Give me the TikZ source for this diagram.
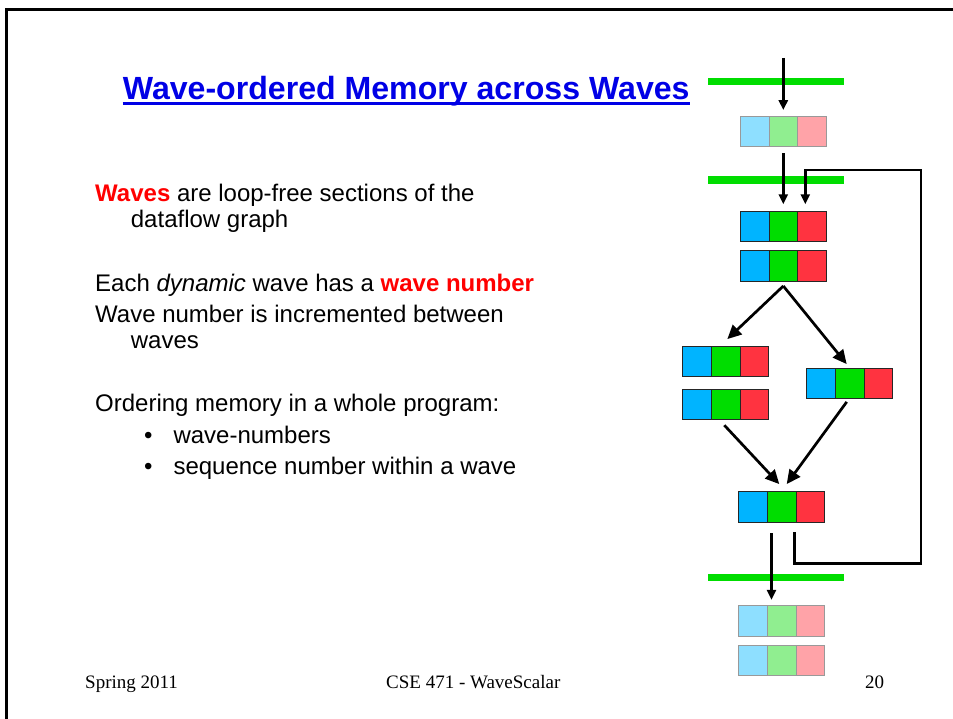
\documentclass[tikz,border=0pt]{standalone}
\usepackage{fontspec}
\setmainfont{Liberation Sans}
\newfontfamily\footfont{Liberation Serif}
\usetikzlibrary{arrows.meta}

\definecolor{titleBlue}{HTML}{0000E6}
\definecolor{hiRed}{HTML}{FF0000}
\definecolor{barGreen}{HTML}{00DD00}
\definecolor{cyanD}{HTML}{00B4FF}
\definecolor{greenD}{HTML}{00DD00}
\definecolor{redD}{HTML}{FF3340}
\definecolor{cyanL}{HTML}{8EDFFF}
\definecolor{greenL}{HTML}{90EE90}
\definecolor{redL}{HTML}{FFA3A8}

% one token: three coloured cells, named #1c, #1g, #1r; #4 is D (dark) or L (light)
\newcommand{\cellrow}[4]{%
  \node[cell#4, fill=green#4] (#1g) at (#2,#3) {};
  \node[cell#4, fill=cyan#4, anchor=east] (#1c) at (#1g.west) {};
  \node[cell#4, fill=red#4, anchor=west] (#1r) at (#1g.east) {};
}

\begin{document}
\begin{tikzpicture}[x=1pt,y=-1pt,
  cellD/.style={draw=black!85, line width=0.9pt, minimum width=28.6pt,
    minimum height=30.4pt, inner sep=0pt, outer sep=0pt},
  cellL/.style={draw=black!40, line width=0.9pt, minimum width=28.6pt,
    minimum height=30.4pt, inner sep=0pt, outer sep=0pt},
  bar/.style={fill=barGreen, minimum width=135.7pt, minimum height=7.6pt,
    inner sep=0pt, outer sep=0pt},
  link/.style={line width=2.7pt},
  arr/.style={link, -{Triangle[length=10pt,width=9pt]}},
  bigarr/.style={link, -{Triangle[length=14pt,width=13pt]}},
  body/.style={anchor=base west, inner sep=0pt, font=\fontsize{24}{28}\selectfont},
  foot/.style={anchor=base west, inner sep=0pt, font=\footfont\fontsize{19}{22}\selectfont}]
\useasboundingbox (0,0) rectangle (953,719);

% slide frame (top and left edges)
\draw[line width=2.6pt] (6.2,719) -- (6.2,9.3) -- (953,9.3);

% title
\node[anchor=base west, inner sep=0pt, text=titleBlue,
  font=\fontsize{32.1}{36}\selectfont\bfseries] (title) at (122.7,99.3)
  {Wave-ordered Memory across Waves};
\draw[titleBlue, line width=3.2pt] ([yshift=-4pt]title.base west) -- ([yshift=-4pt]title.base east);

% body text
\node[body] (l1) at (95,201.7) {\textcolor{hiRed}{\textbf{Waves}} are loop-free sections of the};
\node[body] (l2) at (130.7,227.7) {dataflow graph};
\node[body] (l3) at (95,291) {Each \textit{dynamic} wave has a \textcolor{hiRed}{\textbf{wave number}}};
\node[body] (l4) at (95,322.7) {Wave number is incremented between};
\node[body] (l5) at (130.7,348.3) {waves};
\node[body] (l6) at (95,411.7) {Ordering memory in a whole program:};
\node[body] (b1) at (144,443.3) {•};
\node[body] (l7) at (173.3,443.3) {wave-numbers};
\node[body] (b2) at (144,474.3) {•};
\node[body] (l8) at (173.3,474.3) {sequence number within a wave};

% footer
\node[foot] (f1) at (85,688.8) {Spring 2011};
\node[foot] (f2) at (386,688.8) {CSE 471 - WaveScalar};
\node[foot] (f3) at (865,688.8) {20};

% wave boundaries
\node[bar] (w1) at (776.15,81.5) {};
\node[bar] (w2) at (776.15,180) {};
\node[bar] (w3) at (776.15,577.6) {};

% tokens
\cellrow{t}{783.3}{131.3}{L}
\cellrow{a}{783.3}{226.5}{D}
\cellrow{b}{783.3}{265.8}{D}
\cellrow{c}{725.8}{361.7}{D}
\cellrow{d}{725.8}{404.3}{D}
\cellrow{e}{849.8}{383.3}{D}
\cellrow{f}{781.8}{507}{D}
\cellrow{g}{781.8}{621}{L}
\cellrow{h}{781.8}{660.7}{L}

% connectors
\coordinate (in0) at (783.3,58);
\coordinate (fbLow) at (921,563.3);
\coordinate (fbHigh) at (921,170);

\draw[arr] (in0) -- ([yshift=6pt]tg.north);
\draw[arr] ([yshift=-6.6pt]tg.south) -- ([yshift=7pt]ag.north);
\draw[bigarr] ([yshift=-5pt]bg.south) -- ([xshift=1.5pt,yshift=7.4pt]cg.north);
\draw[bigarr] ([yshift=-5pt]bg.south) -- ([xshift=-3.1pt,yshift=4pt]eg.north);
\draw[bigarr] ([xshift=-1.5pt,yshift=-5.7pt]dg.south) -- ([xshift=-2.5pt,yshift=7.7pt]fg.north);
\draw[bigarr] ([xshift=-3.1pt,yshift=-3.4pt]eg.south) -- ([xshift=4.9pt,yshift=7.7pt]fg.north);
\draw[arr] ([xshift=4pt,yshift=-11pt]fg.south west) -- ([xshift=4pt,yshift=6pt]gg.north west);
\draw[arr, line join=miter] ([xshift=-1.7pt,yshift=-10pt]fr.south west) |- (fbLow) -- (fbHigh)
  -| ([xshift=7.7pt,yshift=7pt]ar.north west);
\end{tikzpicture}
\end{document}
